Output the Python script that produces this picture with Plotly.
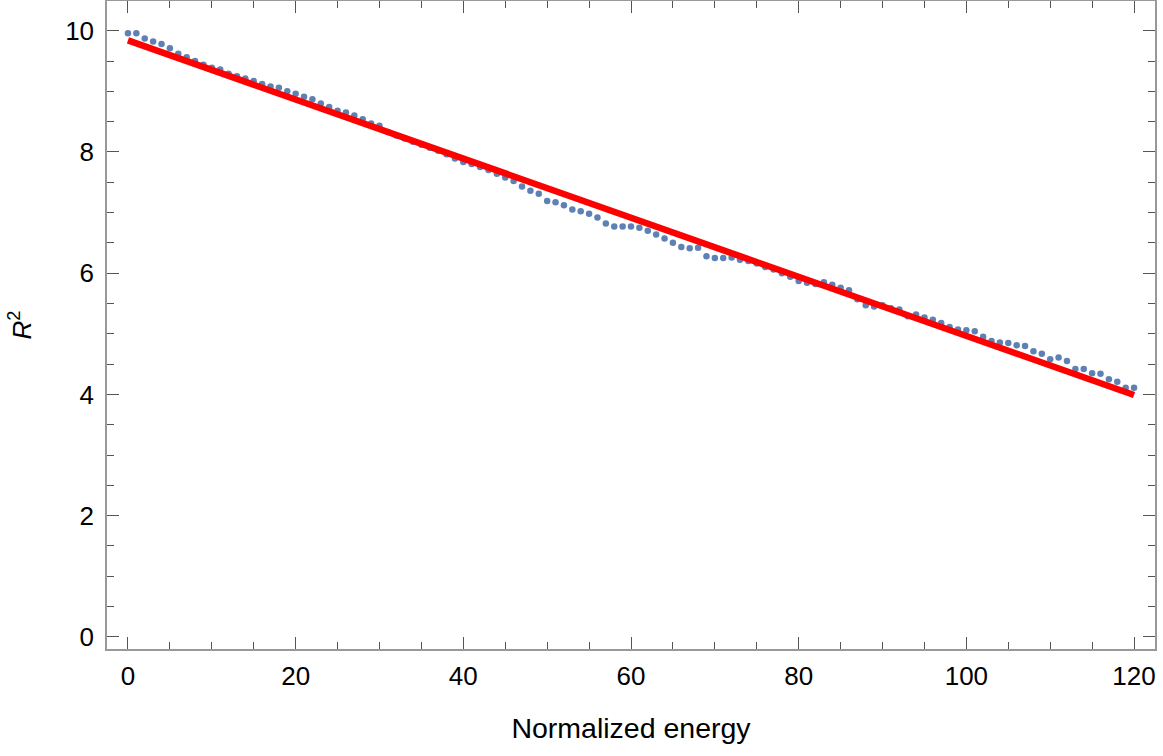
import plotly.graph_objects as go

x_energy = list(range(0, 121))
r2_values = [
    9.96, 9.96, 9.87, 9.82, 9.78, 9.71, 9.62, 9.56, 9.50, 9.44,
    9.39, 9.36, 9.29, 9.25, 9.21, 9.17, 9.12, 9.08, 9.06, 9.00,
    8.96, 8.91, 8.87, 8.80, 8.74, 8.68, 8.65, 8.60, 8.54, 8.47,
    8.43, 8.33, 8.27, 8.22, 8.17, 8.12, 8.07, 8.02, 7.96, 7.89,
    7.835, 7.80, 7.75, 7.70, 7.64, 7.58, 7.52, 7.43, 7.36, 7.31,
    7.19, 7.17, 7.12, 7.05, 7.02, 6.98, 6.92, 6.82, 6.77, 6.77,
    6.77, 6.75, 6.70, 6.64, 6.57, 6.50, 6.43, 6.41, 6.42, 6.28,
    6.25, 6.25, 6.26, 6.22, 6.20, 6.16, 6.10, 6.06, 6.00, 5.94,
    5.87, 5.84, 5.82, 5.85, 5.81, 5.76, 5.72, 5.57, 5.47, 5.45,
    5.47, 5.42, 5.40, 5.29, 5.32, 5.27, 5.23, 5.18, 5.11, 5.07,
    5.06, 5.04, 4.95, 4.88, 4.855, 4.85, 4.81, 4.80, 4.71, 4.67,
    4.58, 4.61, 4.55, 4.42, 4.42, 4.35, 4.34, 4.25, 4.21, 4.11,
    4.11,
]
fit_x = [0, 120]
fit_y = [9.84, 3.99]

x_ticks = [0, 20, 40, 60, 80, 100, 120]
y_ticks = [0, 2, 4, 6, 8, 10]

FONT = "Liberation Sans, Arial"

fig = go.Figure()
fig.add_trace(go.Scatter(
    x=x_energy, y=r2_values, mode="markers",
    marker=dict(color="#5E81B5", size=6.5, line=dict(width=0)),
    showlegend=False,
))
fig.add_trace(go.Scatter(
    x=fit_x, y=fit_y, mode="lines",
    line=dict(color="#FF0000", width=6.5),
    showlegend=False,
))

axis_common = dict(
    showgrid=False, zeroline=False, automargin=False,
    showline=True, linecolor="#999999", linewidth=1.5,
    mirror="ticks", ticks="inside", ticklen=12, tickwidth=1.3,
    tickcolor="#555555",
    tickfont=dict(family=FONT, size=26, color="black"),
)

fig.update_xaxes(
    range=[-2.5, 122.5], tickvals=x_ticks, **axis_common,
    ticklabelstandoff=3,
    minor=dict(dtick=5, tick0=0, ticks="inside", ticklen=7, tickwidth=1.2,
               tickcolor="#555555", showgrid=False),
    title=dict(text="Normalized energy", standoff=28,
               font=dict(family=FONT, size=28.5, color="black")),
)
fig.update_yaxes(
    range=[-0.2, 10.49], tickvals=y_ticks, **axis_common,
    ticklabelstandoff=6,
    minor=dict(dtick=0.5, tick0=0, ticks="inside", ticklen=7, tickwidth=1.2,
               tickcolor="#555555", showgrid=False),
    title=dict(text="<i>R</i><sup>2</sup>", standoff=26,
               font=dict(family=FONT, size=26, color="black")),
)

fig.update_layout(
    width=1163, height=756,
    margin=dict(l=107, r=8, t=1, b=107),
    plot_bgcolor="white", paper_bgcolor="white",
)

fig.write_html("out.html", config={"displayModeBar": False},
               post_script="document.body.style.margin='0';")
